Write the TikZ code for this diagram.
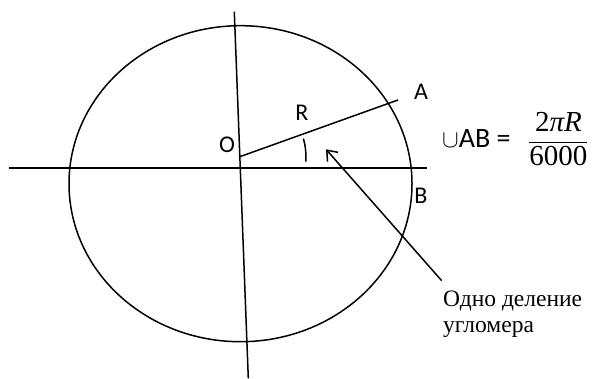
\documentclass[tikz,border=0pt]{standalone}
\usepackage{fontspec}
\setmainfont{Liberation Serif}
\newfontfamily\lblfont{Carlito}
\usetikzlibrary{arrows.meta,shapes.geometric}
\begin{document}
\begin{tikzpicture}[x=1pt,y=-1pt,
  ln/.style={line width=1.5pt},
  lbl/.style={font=\lblfont\fontsize{24}{28}\selectfont, inner sep=0pt},
  rus/.style={anchor=base west, inner sep=0pt, font=\fontsize{23.5}{28}\selectfont}]
\useasboundingbox (0,0) rectangle (593,379);
% circle
\node[ellipse, draw, ln, minimum width=343pt, minimum height=316pt, inner sep=0pt] (circ) at (240.5,183.7) {};
% axes
\coordinate (vtop) at (234.3,11.7);
\coordinate (vbot) at (248.3,378.3);
\coordinate (hl) at (9.4,168);
\coordinate (hr) at (427,168);
\draw[ln] (vtop) -- (vbot);
\draw[ln] (hl) -- (hr);
% radius
\coordinate (O) at (239,157);
\coordinate (Aend) at (398,100);
\draw[ln] (O) -- (Aend);
% angle mark
\draw[ln] (O) ++(-16:67) arc[start angle=-16, end angle=4, radius=67];
% labels
\node[lbl] (lO) at (227,145) {O};
\node[lbl] (lR) at (302,113) {R};
\node[lbl] (lA) at (421,92) {A};
\node[lbl] (lB) at (421,196) {B};
% formula
\node[anchor=west, inner sep=0pt, font=\lblfont\fontsize{28}{30}\selectfont] (arc) at (442,139)
  {{\fontsize{32}{32}\selectfont$\cup$}AB =};
\node[anchor=west, inner sep=0pt, font=\fontsize{29}{32}\selectfont] (frac) at (528,139)
  {$\displaystyle\frac{\hbox{2\textit{πR}}}{\hbox{6000}}$};
% text and arrow
\node[rus] (txt1) at (443,306) {Одно деление};
\node[rus] (txt2) at (443,332) {угломера};
\coordinate (tail) at (441.7,280.7);
\coordinate (tip) at (326,149.3);
\draw[ln, -{Straight Barb[length=9pt,width=14pt]}] (tail) -- (tip);
\end{tikzpicture}
\end{document}
